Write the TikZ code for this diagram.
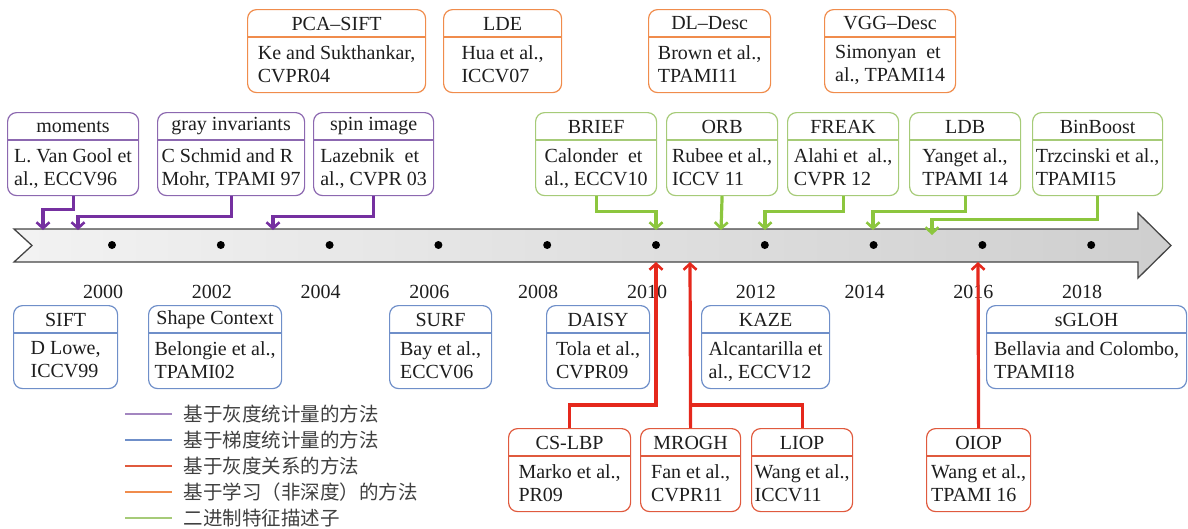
\documentclass[tikz,border=0pt]{standalone}
\usepackage{fontspec}
\setmainfont{Liberation Serif}
\newfontfamily\cjkfont{Noto Sans CJK SC}
\usetikzlibrary{arrows.meta}

\definecolor{purpleln}{HTML}{7530A0}
\definecolor{purplebx}{HTML}{8C68B0}
\definecolor{bluebx}{HTML}{6F8FC9}
\definecolor{redln}{HTML}{E5281C}
\definecolor{redbx}{HTML}{E05A3E}
\definecolor{orangebx}{HTML}{F08C4C}
\definecolor{greenln}{HTML}{8CC63E}
\definecolor{greenbx}{HTML}{A6CB78}
\definecolor{txt}{HTML}{1E1E1E}
\definecolor{axisedge}{HTML}{454545}

\tikzset{
  descframe/.style={rounded corners=9pt, line width=1.2pt, minimum height=83pt,
    inner sep=0pt, fill=white},
  boxfont/.style={font=\fontsize{20}{23}\selectfont, text=txt},
  conn/.style={line width=3.2pt, -{Straight Barb[length=6pt,width=13pt,line width=2.6pt]}},
  plain/.style={line width=3.2pt},
  yeardot/.style={circle, fill=black, inner sep=0pt, minimum size=8pt},
  yearlbl/.style={font=\fontsize{20}{23}\selectfont, text=txt},
  legtxt/.style={font=\cjkfont\fontsize{19.5}{22}\selectfont, text=txt!85, anchor=west},
  legln/.style={line width=1.6pt},
}

% #1 name, #2 colour, #3 left x, #4 right x, #5 top y, #6 title, #7 body
\newcommand\descbox[7]{%
  \node[descframe, draw=#2, minimum width={#4pt-#3pt}, anchor=north west] (#1) at (#3,#5) {};
  \draw[#2, line width=1.1pt] ([yshift=-28pt]#1.north west) -- ([yshift=-28pt]#1.north east);
  \node[boxfont, inner sep=0pt] (#1-t) at ([yshift=-14.5pt]#1.north) {#6};
  \node[boxfont, inner sep=0pt, align=left, anchor=north] (#1-b)
    at ([yshift=-36pt]#1.north) {#7};
}

\begin{document}
\begin{tikzpicture}[x=1pt, y=-1pt]
\useasboundingbox (0,0) rectangle (1188,528);

% ---- time axis ----
\path[left color=gray!10, right color=gray!38]
  (14,229) -- (1138,229) -- (1138,213) -- (1171,245.5) -- (1138,278)
  -- (1138,262) -- (14,262) -- (32,245.5) -- cycle;
\draw[axisedge, line width=1.3pt, line join=miter]
  (14,229) -- (1138,229) -- (1138,213) -- (1171,245.5) -- (1138,278)
  -- (1138,262) -- (14,262) -- (32,245.5) -- cycle;

\foreach \k/\yr in {0/2000,1/2002,2/2004,3/2006,4/2008,5/2010,6/2012,7/2014,8/2016,9/2018}{
  \node[yeardot] (d\yr) at ({112+108.8*\k},245) {};
  \node[yearlbl] (y\yr) at ({103+108.8*\k},292) {\yr};
}

% ---- learning-based descriptors (top row) ----
\descbox{pcasift}{orangebx}{247}{425}{9}{PCA–SIFT}{Ke and Sukthankar,\\CVPR04}
\descbox{lde}{orangebx}{443}{561}{9}{LDE}{Hua et al.,\\ICCV07}
\descbox{dldesc}{orangebx}{648}{770}{9}{DL–Desc}{Brown et al.,\\TPAMI11}
\descbox{vggdesc}{orangebx}{824}{955}{9}{VGG–Desc}{Simonyan \ et\\al., TPAMI14}

% ---- intensity statistics ----
\descbox{moments}{purplebx}{7}{138}{112}{moments}{L. Van Gool et\\al., ECCV96}
\descbox{grayinv}{purplebx}{157}{304}{112}{gray invariants}{C Schmid and R\\Mohr, TPAMI 97}
\descbox{spin}{purplebx}{313}{433}{112}{spin image}{Lazebnik \ et\\al., CVPR 03}

% ---- binary descriptors ----
\descbox{brief}{greenbx}{535}{656}{112}{BRIEF}{Calonder \ et\\al., ECCV10}
\descbox{orb}{greenbx}{666}{777}{112}{ORB}{Rubee et al.,\\ICCV 11}
\descbox{freak}{greenbx}{787}{898}{112}{FREAK}{Alahi et \ al.,\\CVPR 12}
\descbox{ldb}{greenbx}{909}{1020}{112}{LDB}{Yanget al.,\\TPAMI 14}
\descbox{binboost}{greenbx}{1032}{1162}{112}{BinBoost}{Trzcinski et al.,\\TPAMI15}

% ---- gradient statistics ----
\descbox{sift}{bluebx}{13}{117}{305}{SIFT}{D Lowe,\\ICCV99}
\descbox{shape}{bluebx}{148}{281}{305}{Shape Context}{Belongie et al.,\\TPAMI02}
\descbox{surf}{bluebx}{389}{491}{305}{SURF}{Bay et al.,\\ECCV06}
\descbox{daisy}{bluebx}{546}{649}{305}{DAISY}{Tola et al.,\\CVPR09}
\descbox{kaze}{bluebx}{701}{829}{305}{KAZE}{Alcantarilla et\\al., ECCV12}
\descbox{sgloh}{bluebx}{986}{1186}{305}{sGLOH}{Bellavia and Colombo,\\TPAMI18}

% ---- intensity order ----
\descbox{cslbp}{redbx}{508}{630}{428}{CS-LBP}{Marko et al.,\\PR09}
\descbox{mrogh}{redbx}{640}{740}{428}{MROGH}{Fan et al.,\\CVPR11}
\descbox{liop}{redbx}{751}{852}{428}{LIOP}{Wang et al.,\\ICCV11}
\descbox{oiop}{redbx}{926}{1030}{428}{OIOP}{Wang et al.,\\TPAMI 16}

% ---- arrow targets on the axis ----
\coordinate (p96) at (43,230);
\coordinate (p97) at (78,230);
\coordinate (p03) at (273,230);
\coordinate (g10) at (656,230);
\coordinate (g11) at (721,230);
\coordinate (g12) at (765,230);
\coordinate (g14) at (873,230);
\coordinate (g15) at (932,235);
\coordinate (r09) at (656,262);
\coordinate (r11) at (690,262);
\coordinate (rj)  at (690,405);
\coordinate (r16) at (978,262);

% ---- connectors ----
\draw[conn, purpleln] (moments.south) -- ++(0,13) -| (p96);
\draw[conn, purpleln] (grayinv.south) -- ++(0,20) -| (p97);
\draw[conn, purpleln] (spin.south) -- ++(0,20) -| (p03);

\draw[conn, greenln] (brief.south) -- ++(0,15) -| (g10);
\draw[conn, greenln] (orb.south) -- (g11);
\draw[conn, greenln] (freak.south) -- ++(0,15) -| (g12);
\draw[conn, greenln] (ldb.south) -- ++(0,15) -| (g14);
\draw[conn, greenln] (binboost.south) -- ++(0,23) -| (g15);

\draw[conn, redln] (cslbp.north) -- ++(0,-23) -| (r09);
\draw[conn, redln] (mrogh.north) -- (r11);
\draw[plain, redln] (liop.north) |- (rj);
\draw[conn, redln] (oiop.north) -- (r16);

% ---- legend ----
\draw[legln, purplebx!80] (125,414) -- (172,414);
\node[legtxt] (l1) at (180,414) {基于灰度统计量的方法};
\draw[legln, bluebx] (125,440) -- (172,440);
\node[legtxt] (l2) at (180,440) {基于梯度统计量的方法};
\draw[legln, redbx] (125,466) -- (172,466);
\node[legtxt] (l3) at (180,466) {基于灰度关系的方法};
\draw[legln, orangebx] (125,492) -- (172,492);
\node[legtxt] (l4) at (180,492) {基于学习（非深度）的方法};
\draw[legln, greenbx] (125,518) -- (172,518);
\node[legtxt] (l5) at (180,518) {二进制特征描述子};
\end{tikzpicture}
\end{document}
